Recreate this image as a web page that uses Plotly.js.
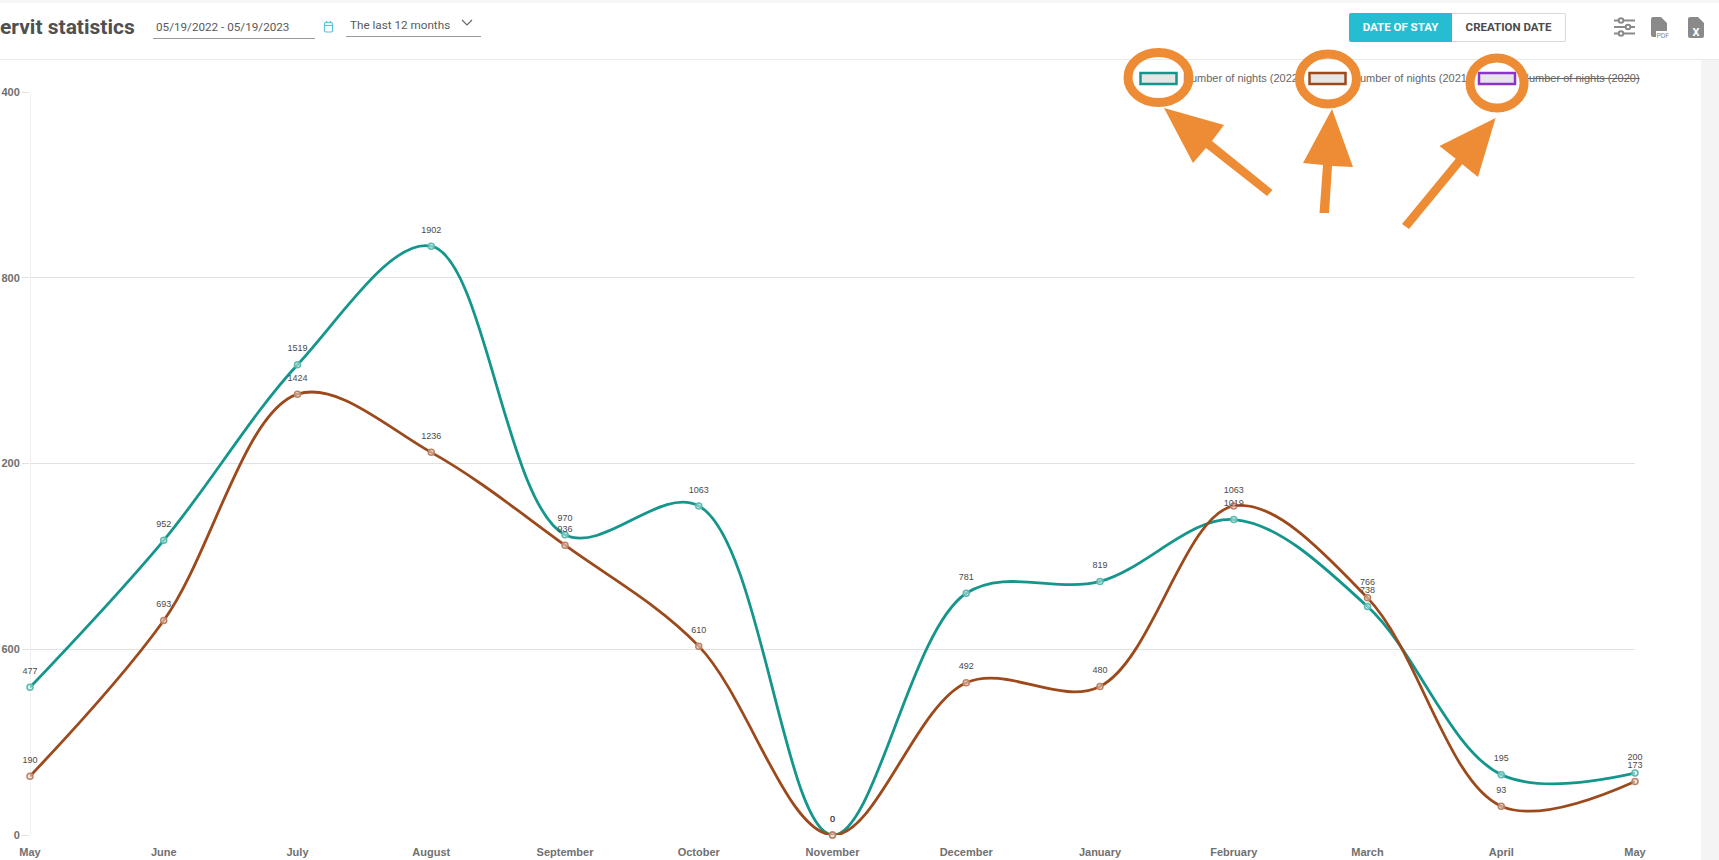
<!DOCTYPE html>
<html><head><meta charset="utf-8">
<script src="https://cdn.plot.ly/plotly-3.0.1.min.js"></script>
<style>
html,body{margin:0;padding:0;width:1719px;height:860px;overflow:hidden;background:#fff;font-family:Roboto,sans-serif}
#chart{position:absolute;left:0;top:0;width:1719px;height:860px}
.o{position:absolute;white-space:nowrap}
#ov{position:absolute;left:0;top:0;pointer-events:none}
</style></head><body>
<div class="o" style="left:0;top:0;width:1719px;height:3px;background:#f6f6f6"></div>
<div class="o" style="left:0;top:59px;width:1719px;height:1px;background:#e9e9e9"></div>
<div class="o" style="left:1701px;top:60px;width:18px;height:800px;background:#f4f4f4"></div>
<div id="chart"></div>
<div class="o" id="ttl" style="left:0;top:13px;font:700 21px/28px Roboto;color:#505050">ervit statistics</div>
<div class="o" style="left:156px;top:19px;font:400 11.7px/16px Roboto;color:#5a5a5a">05/19/2022 - 05/19/2023</div>
<div class="o" style="left:153px;top:38px;width:162px;height:1px;background:#9a9a9a"></div>
<div class="o" style="left:350px;top:17px;font:400 11.7px/16px Roboto;color:#5a5a5a">The last 12 months</div>
<div class="o" style="left:346px;top:36px;width:135px;height:1px;background:#9a9a9a"></div>
<div class="o" style="left:1349px;top:13px;width:103px;height:29px;background:#26bdd2;border-radius:2px 0 0 2px;color:#fff;font:700 11.5px/29px Roboto;text-align:center">DATE OF STAY</div>
<div class="o" style="left:1452px;top:13px;width:113px;height:27px;border:1px solid #d9d9d9;border-left:none;border-radius:0 2px 2px 0;color:#4b4b4b;font:700 11.5px/27px Roboto;text-align:center">CREATION DATE</div>
<div class="o lg" style="left:1183px;top:70px;font:400 11px/16px 'Liberation Sans';color:#666">Number of nights (2022)</div>
<div class="o lg" style="left:1352px;top:70px;font:400 11px/16px 'Liberation Sans';color:#666">Number of nights (2021)</div>
<div class="o lg" style="left:1521px;top:70px;font:400 11px/16px 'Liberation Sans';color:#666;text-decoration:line-through">Number of nights (2020)</div>
<svg id="ov" width="1719" height="860">
  <rect x="1140.5" y="73" width="36" height="11" fill="#e6e6e6" stroke="#14968c" stroke-width="2.5"/>
  <rect x="1309.5" y="73" width="36" height="11" fill="#e6e6e6" stroke="#9c4a1c" stroke-width="2.5"/>
  <rect x="1479" y="73" width="36" height="11" fill="#e8e4ee" stroke="#8a35c8" stroke-width="2.5"/>
  <g fill="none" stroke="#ee8c35" stroke-width="9">
    <ellipse cx="1158.5" cy="77.5" rx="30.5" ry="25"/>
    <ellipse cx="1328" cy="79" rx="28.5" ry="25"/>
    <ellipse cx="1497" cy="83" rx="27" ry="25"/>
  </g>
  <g fill="#ee8c35">
    <polygon points="1164,108 1224,125 1212,141 1272.5,190 1267,196 1206,148 1193,163"/>
    <polygon points="1332,109 1353,167 1332,166 1329,213 1319.5,213 1323,165 1303,163"/>
    <polygon points="1495.6,118 1478,177 1462.3,164.2 1409,229 1402,224 1455.7,158.8 1439.5,146"/>
  </g>
  <!-- calendar -->
  <g fill="none" stroke="#55c6d6" stroke-width="1.2"><rect x="324.5" y="22.5" width="8" height="9.5" rx="1.5"/><path d="M324.5 25.5h8M326.5 21v2M330.5 21v2"/></g>
  <path d="M462 20l5 5 5-5" fill="none" stroke="#666" stroke-width="1.1"/>
  <!-- sliders -->
  <g stroke="#8a8a8a" stroke-width="2" fill="#fff"><path d="M1614 20.500h21M1614 27h21M1614 33.500h21"/><circle cx="1621" cy="20.500" r="2.300"/><circle cx="1628" cy="27" r="2.300"/><circle cx="1621" cy="33.500" r="2.300"/></g>
  <!-- pdf -->
  <path d="M1653 17h8l6 6v8h-11v6h-3a2 2 0 0 1-2-2v-16a2 2 0 0 1 2-2z" fill="#8a8a8a"/>
  <text x="1656.500" y="37.500" font-family="Roboto" font-size="7" fill="#8a8a8a" textLength="12.500">PDF</text>
  <!-- xls -->
  <path d="M1690 17h8l6 6v13a2 2 0 0 1-2 2h-12a2 2 0 0 1-2-2v-17a2 2 0 0 1 2-2z" fill="#8a8a8a"/>
  <text x="1696" y="35.500" text-anchor="middle" font-family="Roboto" font-weight="700" font-size="11" fill="#fff">X</text>
</svg>
<script>
const months = ['May','June','July','August','September','October','November','December','January','February','March','April','May'];
const nights2022 = [477,952,1519,1902,970,1063,0,781,819,1019,738,195,200];
const nights2021 = [190,693,1424,1236,936,610,0,492,480,1063,766,93,173];
const yTicks = [0,600,1200,1800,2400];
const yTickLabels = ['0','600','200','800','400'];
const positions = months.map((_,i)=>i);
function series(name, values, color, ring, fillc){
  return {type:'scatter',mode:'lines+markers',name:name,x:positions,y:values,
    line:{shape:'spline',smoothing:1.0,color:color,width:2.8},
    marker:{size:6,color:fillc,line:{color:ring,width:1.5}},
    cliponaxis:false,hoverinfo:'skip'};
}
function labels(values){
  return {type:'scatter',mode:'markers+text',x:positions,y:values,
    marker:{size:16,opacity:0},
    text:values.map(String),textposition:'top center',
    textfont:{family:'Liberation Sans',size:9,color:'#4a4a4a'},cliponaxis:false,hoverinfo:'skip',showlegend:false};
}
const data=[series('Number of nights (2022)',nights2022,'#14968c','#5db8b0','rgba(200,235,232,.6)'),
            series('Number of nights (2021)',nights2021,'#9c4a1c','#bb8366','rgba(235,215,205,.6)'),
            labels(nights2022),labels(nights2021)];
const layout={width:1719,height:860,margin:{l:29.5,r:84.3,t:92.3,b:24.7,pad:0},autosize:false,
  paper_bgcolor:'rgba(0,0,0,0)',plot_bgcolor:'rgba(0,0,0,0)',showlegend:false,
  xaxis:{range:[0,12],tickmode:'array',tickvals:positions,ticktext:months,showgrid:false,zeroline:false,
    showline:false,ticks:'',tickangle:0,ticklabelstandoff:9,tickfont:{family:'Liberation Sans',size:11,color:'#707070',weight:700}},
  yaxis:{range:[0,2400],tickmode:'array',tickvals:yTicks,ticktext:yTickLabels,showgrid:true,gridcolor:'#e2e2e2',gridwidth:1,
    zeroline:false,showline:false,ticks:'outside',ticklen:7,tickcolor:'#e2e2e2',tickfont:{family:'Liberation Sans',size:11,color:'#707070',weight:700}},
  shapes:[{type:'line',xref:'x',yref:'paper',x0:0,x1:0,y0:0,y1:1,line:{color:'#e2e2e2',width:1},layer:'below'}]
};
Plotly.newPlot('chart',data,layout,{displayModeBar:false,staticPlot:true});
</script></body></html>
